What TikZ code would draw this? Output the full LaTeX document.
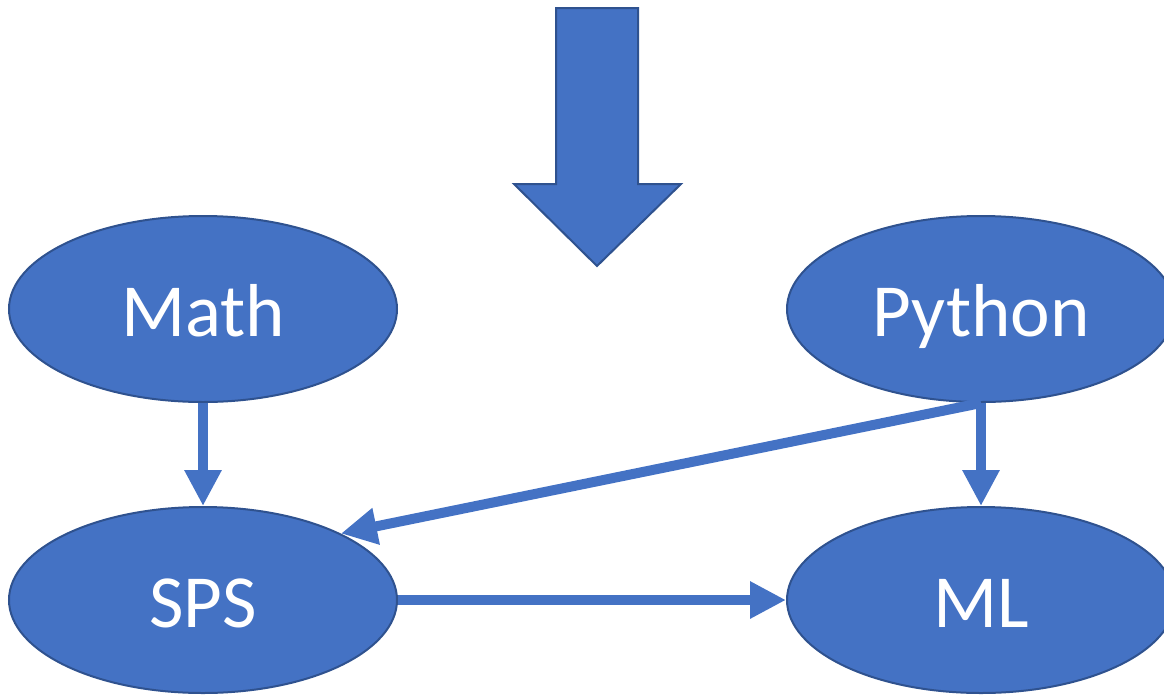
\documentclass[tikz,border=0pt]{standalone}
\usepackage{fontspec}
\setmainfont{Carlito}
\usetikzlibrary{shapes.geometric,arrows.meta}
\definecolor{boxfill}{HTML}{4472C4}
\definecolor{boxline}{HTML}{2F528F}
\begin{document}
\begin{tikzpicture}[x=1pt,y=-1pt,
  topic/.style={ellipse,draw=boxline,line width=2pt,fill=boxfill,
    minimum width=388pt,minimum height=186pt,inner sep=0pt,
    text height=54pt,text depth=0pt,
    text=white,font=\fontsize{75}{90}\selectfont},
  link/.style={draw=boxfill,line width=10pt,
    -{Triangle[length=36pt,width=35pt]}}]
\useasboundingbox (0,0) rectangle (1164,694);
\clip (0,0) rectangle (1164,694);
% downward block arrow
\fill[boxfill,draw=boxline,line width=2pt,line join=miter]
  (556,8) -- (638,8) -- (638,184) -- (681,184) -- (597,266)
  -- (514,184) -- (556,184) -- cycle;
% topics
\node[topic] (math) at (203,309) {Math};
\node[topic] (python) at (981,309) {Python};
\node[topic] (sps) at (203,600) {SPS};
\node[topic] (ml) at (981,600) {ML};
% dependencies
\draw[link] (math.south) -- (sps.north);
\draw[link] (python.south) -- (ml.north);
\draw[link] (python.south) -- (sps.north east);
\draw[link] (sps.east) -- (ml.west);
\end{tikzpicture}
\end{document}
